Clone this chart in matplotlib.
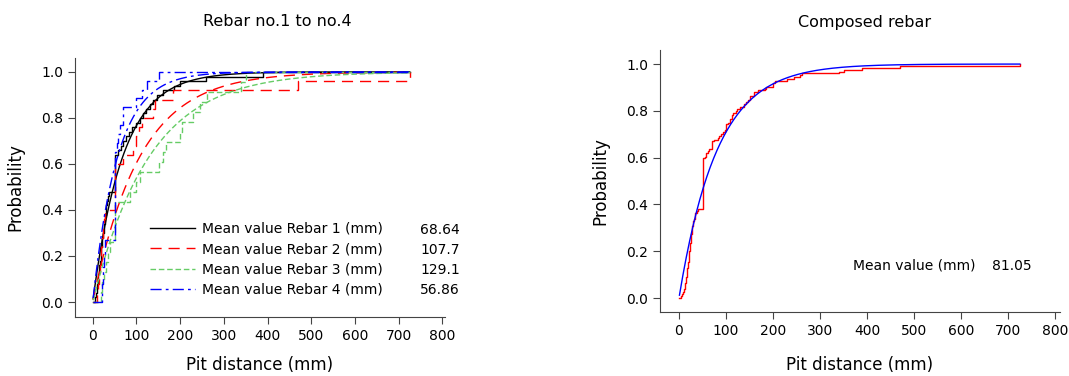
import numpy as np
import matplotlib
matplotlib.use("Agg")
import matplotlib.pyplot as plt

plt.rcParams['font.family'] = ['DejaVu Sans']
plt.rcParams['font.size'] = 10

# pit distances (mm)
rebar1 = [5, 7, 9, 10, 12, 13, 14, 15, 17, 18, 19, 20, 21, 22, 24, 25, 26, 27, 28, 30,
          31, 33, 35, 38, 51, 51, 51, 51, 51, 51, 51, 51, 58, 64, 70,
          75, 82, 90, 98, 108, 115, 122, 130, 138, 146, 160, 185, 200, 258, 390]
rebar2 = [10, 12, 14, 16, 18, 20, 22, 24, 26, 28, 51, 51, 51, 51, 51,
          70, 93, 100, 105, 112, 139, 142, 183, 470, 725]
rebar3 = [18, 22, 26, 30, 35, 40, 51, 51, 51, 51, 85, 100, 108,
          152, 160, 168, 200, 205, 230, 245, 262, 340, 350]
rebar4 = [22, 22, 23, 24, 25, 27, 29, 51, 51, 51, 51, 51, 51, 51, 51, 51, 51,
          55, 58, 62, 70, 70, 100, 112, 124, 152]

# fitted exponential means (mm)
means = [68.64, 107.7, 129.1, 56.86]
mean_all = 81.05

labels = ['Mean value Rebar 1 (mm)', 'Mean value Rebar 2 (mm)',
          'Mean value Rebar 3 (mm)', 'Mean value Rebar 4 (mm)']
mean_txt = ['68.64', '107.7', '129.1', '56.86']

colors = ['black', 'red', '#66cc66', 'blue']
styles = ['-', (0, (8, 5)), (0, (4, 2)), (0, (8, 3, 2, 3))]

x_end = 725
x_fit = np.linspace(1, x_end, 400)


def ecdf(vals):
    v = np.sort(np.asarray(vals, dtype=float))
    x = np.concatenate([[0], v, [x_end]])
    y = np.concatenate([np.arange(len(v) + 1) / len(v), [1.0]])
    return x, y


def style_ax(ax, pad):
    ax.spines['top'].set_visible(False)
    ax.spines['right'].set_visible(False)
    for s in ['left', 'bottom']:
        ax.spines[s].set_color('#444444')
    ax.tick_params(direction='out', length=5, color='#444444', labelsize=10)
    ax.set_xticks(np.arange(0, 801, 100))
    ax.set_yticks(np.arange(0, 1.01, 0.2))
    ax.yaxis.set_major_formatter(matplotlib.ticker.FormatStrFormatter('%.1f'))
    ax.set_xlabel('Pit distance (mm)', fontsize=12, labelpad=pad)
    ax.set_ylabel('Probability', fontsize=12, labelpad=12)


fig = plt.figure(figsize=(10.69, 3.76), dpi=100)
ax1 = fig.add_axes([0.0702, 0.157, 0.3461, 0.689])
ax2 = fig.add_axes([0.6174, 0.170, 0.3742, 0.697])

# left panel
rebars = [rebar1, rebar2, rebar3, rebar4]
handles = []
for vals, m, c, ls, lab in zip(rebars, means, colors, styles, labels):
    xs, ys = ecdf(vals)
    h, = ax1.plot(xs, ys, drawstyle='steps-post', color=c, ls=ls, lw=1, label=lab)
    ax1.plot(x_fit, 1 - np.exp(-x_fit / m), color=c, ls=ls, lw=1)
    handles.append(h)

ax1.set_xlim(-40.5, 806)
ax1.set_ylim(-0.065, 1.061)
style_ax(ax1, 9.5)
fig.text(277 / 1069, 1 - 22 / 376, 'Rebar no.1 to no.4', fontsize=11.5, ha='center', va='center')
leg = ax1.legend(handles=handles, loc='lower left', bbox_to_anchor=(0.17, 0.03),
                 frameon=False, handlelength=3.2, handletextpad=0.5,
                 labelspacing=0.45, fontsize=10)
for i, t in enumerate(mean_txt):
    ax1.text(1.04, 0.335 - i * 0.0775, t, transform=ax1.transAxes,
             ha='right', va='center', fontsize=10)

# right panel
composed = rebar1 + rebar2 + rebar3 + rebar4
xs, ys = ecdf(composed)
ax2.plot(xs, ys, drawstyle='steps-post', color='red', lw=1)
ax2.plot(x_fit, 1 - np.exp(-x_fit / mean_all), color='blue', lw=1)
ax2.set_xlim(-40.4, 810.6)
ax2.set_ylim(-0.06, 1.06)
style_ax(ax2, 13)
fig.text(865 / 1069, 1 - 22 / 376, 'Composed rebar', fontsize=11.5, ha='center', va='center')
ax2.text(0.4825, 0.176, 'Mean value (mm)', transform=ax2.transAxes, fontsize=10, va='center')
ax2.text(0.83, 0.176, f'{mean_all:.2f}', transform=ax2.transAxes, fontsize=10, va='center')

fig.savefig('out.png', dpi=100)
